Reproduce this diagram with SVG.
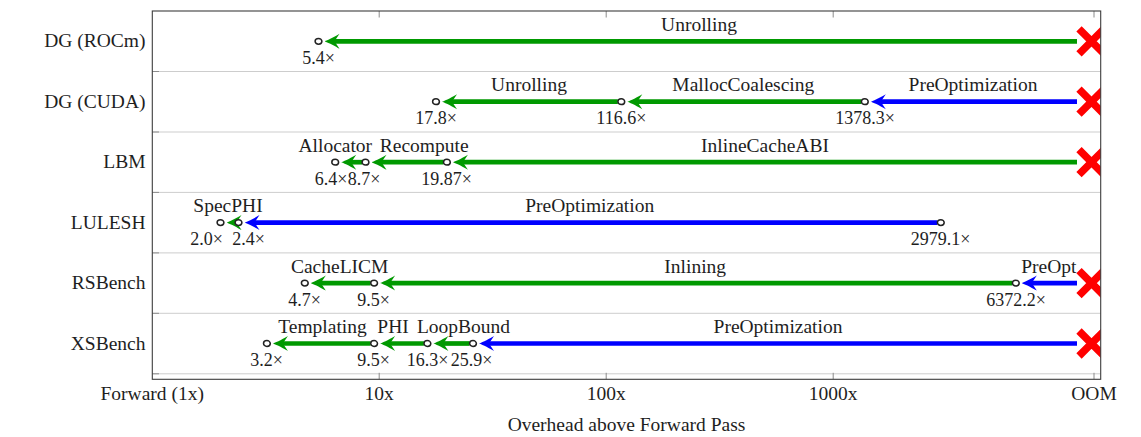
<svg xmlns="http://www.w3.org/2000/svg" width="1141" height="437" viewBox="0 0 1141 437">
<style>
text{font-family:"Liberation Serif","Times New Roman",serif;fill:#1e1e1e}
.lbl{font-size:19.5px;text-anchor:middle}
.ylab{font-size:19.5px;text-anchor:end}
.val{font-size:18px;text-anchor:middle}
.g{stroke:#009900;stroke-width:4.7;fill:none;marker-end:url(#ahg)}
.b{stroke:#0000ff;stroke-width:4.7;fill:none;marker-end:url(#ahb)}
.pt{fill:#fff;stroke:#222;stroke-width:1.5}
.oom{stroke:#ff0000;stroke-width:7.5;fill:none}
.grid{stroke:#cdcdcd;stroke-width:1}
.tick{stroke:#8c8c8c;stroke-width:1}
.frame{fill:none;stroke:#3c3c3c;stroke-width:1.1}
</style>
<defs>
<marker id="ahg" viewBox="0 0 16 16" markerWidth="16" markerHeight="16" refX="7" refY="8" orient="auto" markerUnits="userSpaceOnUse">
<path d="M16,8 C12,6.6 5,3 1,0.5 L6,8 L1,15.5 C5,13 12,9.4 16,8 Z" fill="#009900"/>
</marker>
<marker id="ahb" viewBox="0 0 16 16" markerWidth="16" markerHeight="16" refX="7" refY="8" orient="auto" markerUnits="userSpaceOnUse">
<path d="M16,8 C12,6.6 5,3 1,0.5 L6,8 L1,15.5 C5,13 12,9.4 16,8 Z" fill="#0000ff"/>
</marker>
<path id="oomx" class="oom" d="M-12.5,-12.5 L12.5,12.5 M-12.5,12.5 L12.5,-12.5"/>
<ellipse id="pt" class="pt" cx="0" cy="0" rx="3.4" ry="2.9"/>
<clipPath id="plotclip"><rect x="152.3" y="11" width="948.4" height="368.3"/></clipPath>
</defs>

<g id="axes">
<g class="grid">
<line x1="152.3" y1="71.5" x2="1100.7" y2="71.5"/>
<line x1="152.3" y1="132" x2="1100.7" y2="132"/>
<line x1="152.3" y1="192.4" x2="1100.7" y2="192.4"/>
<line x1="152.3" y1="252.9" x2="1100.7" y2="252.9"/>
<line x1="152.3" y1="313.3" x2="1100.7" y2="313.3"/>
<line x1="152.3" y1="373.8" x2="1100.7" y2="373.8"/>
</g>
<g class="tick">
<line x1="379.2" y1="11" x2="379.2" y2="17.5"/>
<line x1="606.2" y1="11" x2="606.2" y2="17.5"/>
<line x1="833.2" y1="11" x2="833.2" y2="17.5"/>
<line x1="1094" y1="11" x2="1094" y2="17.5"/>
<line x1="379.2" y1="372.8" x2="379.2" y2="379.3"/>
<line x1="606.2" y1="372.8" x2="606.2" y2="379.3"/>
<line x1="833.2" y1="372.8" x2="833.2" y2="379.3"/>
<line x1="1094" y1="372.8" x2="1094" y2="379.3"/>
<line x1="152.3" y1="71.5" x2="159" y2="71.5"/>
<line x1="152.3" y1="132" x2="159" y2="132"/>
<line x1="152.3" y1="192.4" x2="159" y2="192.4"/>
<line x1="152.3" y1="252.9" x2="159" y2="252.9"/>
<line x1="152.3" y1="313.3" x2="159" y2="313.3"/>
<line x1="152.3" y1="373.8" x2="159" y2="373.8"/>
</g>
<text class="lbl" x="152.2" y="399.5">Forward (1x)</text>
<text class="lbl" x="379.2" y="399.5">10x</text>
<text class="lbl" x="606.2" y="399.5">100x</text>
<text class="lbl" x="833.2" y="399.5">1000x</text>
<text class="lbl" x="1094" y="399.5">OOM</text>
<text class="lbl" x="626.5" y="430.5">Overhead above Forward Pass</text>
</g>

<g id="connectors">
<line class="g" x1="1077" y1="41.3" x2="333.5" y2="41.3"/>
<line class="b" x1="1077" y1="101.7" x2="879.8" y2="101.7"/>
<line class="g" x1="861.3" y1="101.7" x2="636.3" y2="101.7"/>
<line class="g" x1="617.8" y1="101.7" x2="451" y2="101.7"/>
<line class="g" x1="1077" y1="162.2" x2="461.9" y2="162.2"/>
<line class="g" x1="443.4" y1="162.2" x2="380.5" y2="162.2"/>
<line class="g" x1="362" y1="162.2" x2="350.2" y2="162.2"/>
<line class="b" x1="937.3" y1="222.6" x2="253.5" y2="222.6"/>
<line class="g" x1="237" y1="222.6" x2="235.5" y2="222.6"/>
<line class="b" x1="1077" y1="283.1" x2="1030.8" y2="283.1"/>
<line class="g" x1="1012.3" y1="283.1" x2="389.1" y2="283.1"/>
<line class="g" x1="370.6" y1="283.1" x2="319.8" y2="283.1"/>
<line class="b" x1="1077" y1="343.5" x2="488" y2="343.5"/>
<line class="g" x1="469.5" y1="343.5" x2="442.4" y2="343.5"/>
<line class="g" x1="423.9" y1="343.5" x2="389.1" y2="343.5"/>
<line class="g" x1="370.6" y1="343.5" x2="281.9" y2="343.5"/>
</g>

<g id="row-dg-rocm">
<text class="ylab" x="145.5" y="47.3">DG (ROCm)</text>
<text class="lbl" x="699" y="30.8">Unrolling</text>
<use href="#pt" x="318.5" y="41.3"/>
<text class="val" x="318.5" y="64">5.4×</text>
<g clip-path="url(#plotclip)"><use href="#oomx" x="1091.5" y="41.3"/></g>
</g>

<g id="row-dg-cuda">
<text class="ylab" x="145.5" y="107.7">DG (CUDA)</text>
<text class="lbl" x="973" y="91.2">PreOptimization</text>
<text class="lbl" x="743.3" y="91.2">MallocCoalescing</text>
<text class="lbl" x="529" y="91.2">Unrolling</text>
<use href="#pt" x="864.8" y="101.7"/>
<use href="#pt" x="621.3" y="101.7"/>
<use href="#pt" x="436" y="101.7"/>
<text class="val" x="865" y="124.4">1378.3×</text>
<text class="val" x="621.3" y="124.4">116.6×</text>
<text class="val" x="436" y="124.4">17.8×</text>
<g clip-path="url(#plotclip)"><use href="#oomx" x="1091.5" y="101.7"/></g>
</g>

<g id="row-lbm">
<text class="ylab" x="145.5" y="168.2">LBM</text>
<text class="lbl" x="765" y="151.7">InlineCacheABI</text>
<text class="lbl" x="424.2" y="151.7">Recompute</text>
<text class="lbl" x="335.3" y="151.7">Allocator</text>
<use href="#pt" x="446.9" y="162.2"/>
<use href="#pt" x="365.5" y="162.2"/>
<use href="#pt" x="335.2" y="162.2"/>
<text class="val" x="446.7" y="184.9">19.87×</text>
<text class="val" x="364" y="184.9">8.7×</text>
<text class="val" x="331" y="184.9">6.4×</text>
<g clip-path="url(#plotclip)"><use href="#oomx" x="1091.5" y="162.2"/></g>
</g>

<g id="row-lulesh">
<text class="ylab" x="145.5" y="228.6">LULESH</text>
<text class="lbl" x="589.7" y="212.1">PreOptimization</text>
<text class="lbl" x="228" y="212.1">SpecPHI</text>
<use href="#pt" x="940.8" y="222.6"/>
<use href="#pt" x="238.5" y="222.6"/>
<use href="#pt" x="220.5" y="222.6"/>
<text class="val" x="940.5" y="245.3">2979.1×</text>
<text class="val" x="248.5" y="245.3">2.4×</text>
<text class="val" x="206.5" y="245.3">2.0×</text>
</g>

<g id="row-rsbench">
<text class="ylab" x="145.5" y="289.1">RSBench</text>
<text class="lbl" x="1048.8" y="272.6">PreOpt</text>
<text class="lbl" x="695.2" y="272.6">Inlining</text>
<text class="lbl" x="339.7" y="272.6">CacheLICM</text>
<use href="#pt" x="1015.8" y="283.1"/>
<use href="#pt" x="374.1" y="283.1"/>
<use href="#pt" x="304.8" y="283.1"/>
<text class="val" x="1016" y="305.8">6372.2×</text>
<text class="val" x="373.5" y="305.8">9.5×</text>
<text class="val" x="304.5" y="305.8">4.7×</text>
<g clip-path="url(#plotclip)"><use href="#oomx" x="1091.5" y="283.1"/></g>
</g>

<g id="row-xsbench">
<text class="ylab" x="145.5" y="349.5">XSBench</text>
<text class="lbl" x="778" y="333">PreOptimization</text>
<text class="lbl" x="463.5" y="333">LoopBound</text>
<text class="lbl" x="393" y="333">PHI</text>
<text class="lbl" x="322.5" y="333">Templating</text>
<use href="#pt" x="473" y="343.5"/>
<use href="#pt" x="427.4" y="343.5"/>
<use href="#pt" x="374.1" y="343.5"/>
<use href="#pt" x="266.9" y="343.5"/>
<text class="val" x="471.5" y="366.2">25.9×</text>
<text class="val" x="427.5" y="366.2">16.3×</text>
<text class="val" x="373.5" y="366.2">9.5×</text>
<text class="val" x="266.5" y="366.2">3.2×</text>
<g clip-path="url(#plotclip)"><use href="#oomx" x="1091.5" y="343.5"/></g>
</g>

<rect id="frame" class="frame" x="152.3" y="11" width="948.4" height="368.3"/>
</svg>
